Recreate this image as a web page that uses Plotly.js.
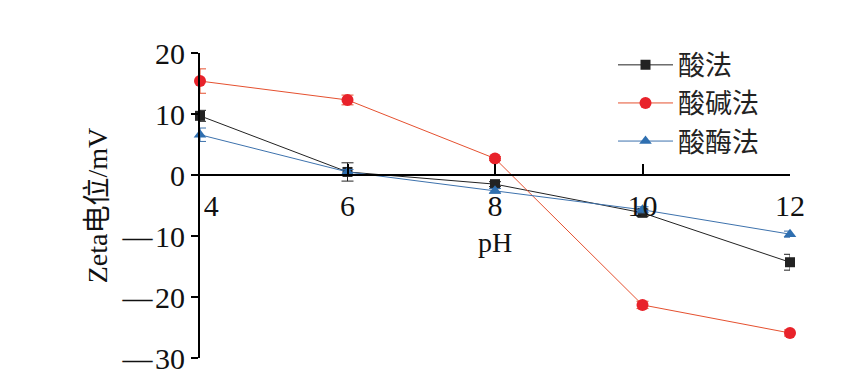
<!DOCTYPE html>
<html>
<head>
<meta charset="utf-8">
<script src="https://cdn.plot.ly/plotly-3.0.1.min.js"></script>
<style>html,body{margin:0;padding:0;background:#fff;}#chart{width:867px;height:377px;}</style>
</head>
<body>
<div id="chart"></div>
<script>
const pH = [4, 6, 8, 10, 12];
const seriesNames = ['酸法', '酸碱法', '酸酶法'];
const acid = [9.7, 0.5, -1.5, -6.2, -14.3];
const acidErr = [0.9, 1.5, 0.4, 0.6, 1.3];
const acidBase = [15.4, 12.3, 2.7, -21.3, -25.9];
const acidBaseErr = [2.0, 0.8, 0.3, 0.6, 0.5];
const acidEnzyme = [6.6, 0.5, -2.6, -5.7, -9.7];
const acidEnzymeErr = [1.1, 0.4, 0.4, 0.5, 0.5];
const xTickVals = [4, 6, 8, 10, 12];
const xTickText = ['\u00a0\u00a0\u00a04', '6', '8', '10', '12'];
const yTickVals = [20, 10, 0, -10, -20, -30];
const yTickText = ['20', '10', '0', '—\u200a10', '—\u200a20', '—\u200a30'];

const font = "'Liberation Serif', 'Times New Roman', 'Noto Sans CJK SC', serif";

function tr(name, y, err, lineColor, markColor, symbol, size) {
  return {
    x: pH, y: y, name: name, type: 'scatter', mode: 'lines+markers',
    cliponaxis: false,
    line: {color: lineColor, width: 1},
    marker: {color: markColor, symbol: symbol, size: size},
    error_y: {type: 'data', array: err, visible: true, color: lineColor, thickness: 1, width: 6}
  };
}

const data = [
  tr(seriesNames[0], acid, acidErr, '#222222', '#222222', 'square', 10),
  tr(seriesNames[1], acidBase, acidBaseErr, '#e5502f', '#e8222a', 'circle', 12),
  tr(seriesNames[2], acidEnzyme, acidEnzymeErr, '#3d72ad', '#2f6fb0', 'triangle-up', 11)
];

const layout = {
  width: 867, height: 377,
  margin: {l: 200, r: 77, t: 53, b: 19},
  paper_bgcolor: '#fff', plot_bgcolor: '#fff',
  font: {family: font, size: 30, color: '#111'},
  showlegend: true,
  legend: {x: 0.70, y: 1.04, xanchor: 'left', yanchor: 'top', bgcolor: 'rgba(0,0,0,0)',
           font: {family: "'Noto Sans CJK SC', sans-serif", size: 27, color: '#222'},
           tracegroupgap: 0, itemwidth: 55},
  xaxis: {
    range: [4, 12], anchor: 'free', position: 0.6,
    showgrid: false, zeroline: false,
    showline: true, linecolor: '#000', linewidth: 2,
    ticks: 'inside', ticklen: 10, tickwidth: 2, tickcolor: '#000',
    tickvals: xTickVals, ticktext: xTickText,
    tickfont: {family: font, size: 30, color: '#111'},
    ticklabelstandoff: 4,
    title: {text: 'pH', font: {family: font, size: 28, color: '#111'}, standoff: 10}
  },
  yaxis: {
    range: [-30, 20], domain: [0, 1],
    showgrid: false, zeroline: false,
    showline: true, linecolor: '#000', linewidth: 2,
    ticks: 'outside', ticklen: 7, tickwidth: 2, tickcolor: '#000',
    tickvals: yTickVals, ticktext: yTickText,
    tickfont: {family: font, size: 30, color: '#111'},
    title: {text: 'Zeta电位/mV', font: {family: font, size: 28, color: '#111'}, standoff: 6}
  }
};

Plotly.newPlot('chart', data, layout, {displayModeBar: false, staticPlot: true});
</script>
</body>
</html>
